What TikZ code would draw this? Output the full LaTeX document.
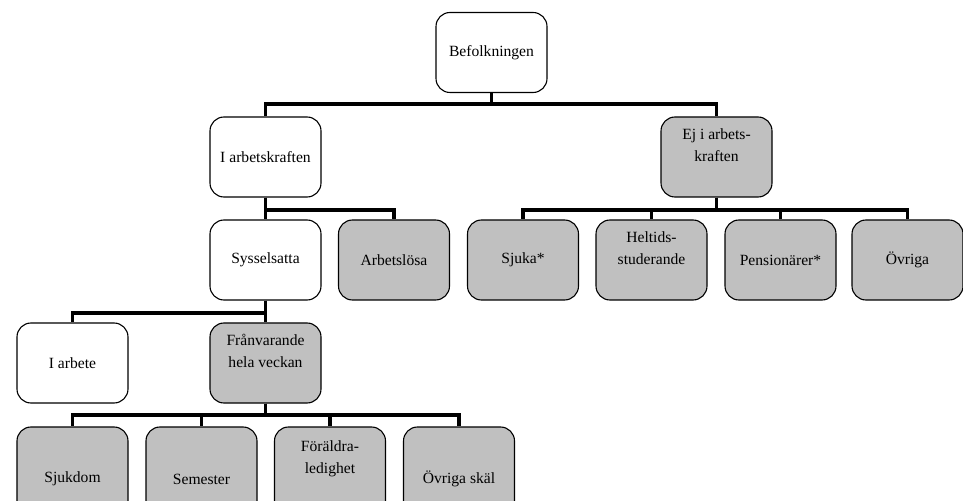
\documentclass[tikz,border=0pt]{standalone}
\usepackage{fontspec}
\setmainfont{Liberation Serif}
\definecolor{boxgray}{RGB}{192,192,192}
\begin{document}
\begin{tikzpicture}[x=1bp,y=-1bp,
  box/.style={draw, rounded corners=14bp, line width=1.1bp, minimum width=111bp,
    minimum height=80bp, inner sep=0pt, font=\fontsize{15.6bp}{22bp}\selectfont, align=center},
  wbox/.style={box, fill=white},
  gbox/.style={box, fill=boxgray},
  tall/.style={minimum height=104bp},
  txt/.style={font=\fontsize{15.6bp}{22bp}\selectfont, align=center, inner sep=0pt},
  conn/.style={line width=3.6bp}]
\useasboundingbox (0,0) rectangle (963,501);
% bus levels
\coordinate (b1) at (0,104);
\coordinate (b2) at (0,210);
\coordinate (b3) at (0,313);
\coordinate (b4) at (0,415);
% level 0
\node[wbox] (bef) at (491.5,52.5) {Befolkningen};
% level 1
\node[wbox] (iak) at (265.5,157) {I arbetskraften};
\node[gbox] (ej) at (716.5,157) {};
\node[txt] (ejt) at ([yshift=12bp]ej.center) {Ej i arbets-\\kraften};
% level 2
\node[wbox] (sys) at (265.5,260) {Sysselsatta};
\node[gbox] (arb) at (394,260) {Arbetslösa};
\node[gbox] (sju) at (523,260) {Sjuka*};
\node[gbox] (hel) at (651.5,260) {};
\node[txt] (helt) at ([yshift=12bp]hel.center) {Heltids-\\studerande};
\node[gbox] (pen) at (780.5,260) {Pensionärer*};
\node[gbox] (ovr) at (907.5,260) {Övriga};
% level 3
\node[wbox] (iar) at (72.5,363) {I arbete};
\node[gbox] (fra) at (265.5,363) {};
\node[txt] (frat) at ([yshift=12bp]fra.center) {Frånvarande\\hela veckan};
% level 4
\node[gbox,tall] (sjd) at (72.5,479) {Sjukdom};
\node[gbox,tall] (sem) at (201.5,479) {Semester};
\node[gbox,tall] (for) at (330,479) {};
\node[txt] (fort) at ([yshift=20bp]for.center) {Föräldra-\\ledighet};
\node[gbox,tall] (ovs) at (459,479) {Övriga skäl};
% connectors
\foreach \c in {iak,ej} \draw[conn] (bef.south) -- (bef.south |- b1) -| (\c.north);
\foreach \c in {sys,arb} \draw[conn] (iak.south) -- (iak.south |- b2) -| (\c.north);
\foreach \c in {sju,hel,pen,ovr} \draw[conn] (ej.south) -- (ej.south |- b2) -| (\c.north);
\foreach \c in {iar,fra} \draw[conn] (sys.south) -- (sys.south |- b3) -| (\c.north);
\foreach \c in {sjd,sem,for,ovs} \draw[conn] (fra.south) -- (fra.south |- b4) -| (\c.north);
\end{tikzpicture}
\end{document}
